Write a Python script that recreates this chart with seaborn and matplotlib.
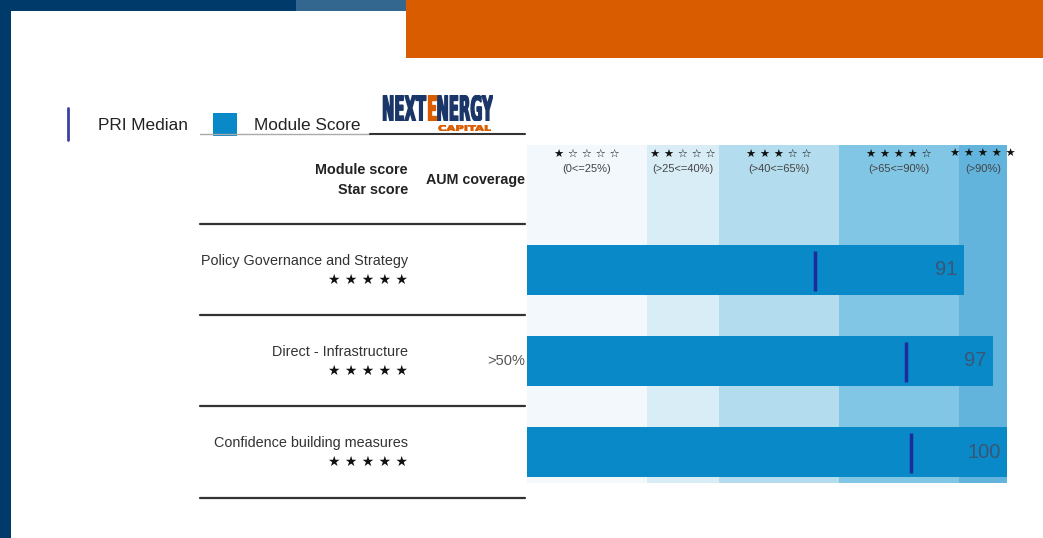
import numpy as np
import pandas as pd
import matplotlib
matplotlib.use("Agg")
import matplotlib.pyplot as plt
import matplotlib.transforms as mtransforms
import seaborn as sns
from matplotlib.patches import Rectangle, PathPatch
from matplotlib.lines import Line2D
from matplotlib.textpath import TextPath
from matplotlib.font_manager import FontProperties

# ---------------- data ----------------
modules = ["Policy Governance and Strategy", "Direct - Infrastructure", "Confidence building measures"]
module_scores = [91, 97, 100]
pri_medians = [60, 79, 80]
star_scores = [5, 5, 5]
aum_coverage = ["", ">50%", ""]
band_edges = [0, 25, 40, 65, 90, 100]
band_stars = [1, 2, 3, 4, 5]
band_labels = ["(0<=25%)", "(>25<=40%)", "(>40<=65%)", "(>65<=90%)", "(>90%)"]
band_colors = ["#f2f8fc", "#d9edf7", "#b3dcee", "#82c6e5", "#62b4dd"]
legend_labels = ["PRI Median", "Module Score"]

BAR_C = "#0a89c8"
MED_C = "#1c2c9c"
NAVY = "#003a6b"
ORANGE = "#d95c00"

W, H = 1043, 538
sns.set_theme(style="white")
plt.rcParams['font.family'] = ['Liberation Sans', 'DejaVu Sans']

fig = plt.figure(figsize=(W / 100, H / 100), dpi=100)
fig.patch.set_facecolor("white")


def fx(x):
    return x / W


def fy(y):
    return 1 - y / H


# ---------------- frame decoration ----------------
fig.add_artist(Rectangle((0, 0), fx(11), 1, transform=fig.transFigure, color=NAVY, lw=0))
fig.add_artist(Rectangle((0, fy(11)), fx(296), 11 / H, transform=fig.transFigure, color=NAVY, lw=0))
fig.add_artist(Rectangle((fx(296), fy(11)), fx(110), 11 / H, transform=fig.transFigure, color="#346790", lw=0))
fig.add_artist(Rectangle((fx(406), fy(58)), 1 - fx(406), 58 / H, transform=fig.transFigure, color=ORANGE, lw=0))

# ---------------- main axes ----------------
ax = fig.add_axes([fx(527), fy(483), fx(1007) - fx(527), (483 - 145) / H])
for lo, hi, c in zip(band_edges[:-1], band_edges[1:], band_colors):
    ax.axvspan(lo, hi, color=c, lw=0, zorder=0)

df = pd.DataFrame({"module": modules, "score": module_scores})
sns.barplot(data=df, x="score", y="module", orient="h", color=BAR_C, saturation=1,
            width=0.55, ax=ax, zorder=2, linewidth=0, edgecolor=BAR_C)
for p in ax.patches:
    p.set_clip_on(False)
ax.set_xlim(0, 100)
ax.set_ylim(2.34, -1.37)
ax.axis("off")

ypos = np.arange(len(modules))
ax.vlines(pri_medians, ypos - 0.21, ypos + 0.23, color=MED_C, lw=2.5, zorder=3)
for i, s in enumerate(module_scores):
    ax.text(s - 1.3, i, str(s), ha="right", va="center", color="#3a5674", fontsize=14.5, zorder=4)

# band headers
for lo, hi, n, lab in zip(band_edges[:-1], band_edges[1:], band_stars, band_labels):
    mid = (lo + hi) / 2
    stars = " ".join(["★"] * n + ["☆"] * (5 - n))
    ax.text(mid, -1.275, stars, ha="center", va="center", fontsize=8.2, color="#111",
            family=["DejaVu Sans"], clip_on=False)
    ax.text(mid, -1.11, lab, ha="center", va="center", fontsize=8, color="#444", clip_on=False)

# ---------------- left table ----------------
blend = mtransforms.blended_transform_factory(fig.transFigure, ax.transData)
for i, (name, ns, aum) in enumerate(zip(modules, star_scores, aum_coverage)):
    fig.text(fx(408), i - 0.1, name, transform=blend, ha="right", va="center",
             fontsize=10.4, color="#333")
    fig.text(fx(408), i + 0.11, " ".join(["★"] * ns), transform=blend, ha="right", va="center",
             fontsize=10, color="#111", family=["DejaVu Sans"])
    if aum:
        fig.text(fx(525), i, aum, transform=blend, ha="right", va="center", fontsize=10.5, color="#555")

fig.text(fx(408), -1.10, "Module score", transform=blend, ha="right", va="center",
         fontsize=10.4, fontweight="bold", color="#222")
fig.text(fx(408), -0.88, "Star score", transform=blend, ha="right", va="center",
         fontsize=10.4, fontweight="bold", color="#222")
fig.text(fx(525), -0.99, "AUM coverage", transform=blend, ha="right", va="center",
         fontsize=10.3, fontweight="bold", color="#222")

for yv in np.arange(len(modules) + 1) - 0.5:
    fig.add_artist(Line2D([fx(200), fx(525)], [yv, yv], transform=blend, color="#333", lw=1.6))

# ---------------- legend ----------------
fig.add_artist(Line2D([fx(68), fx(68)], [fy(108), fy(140)], transform=fig.transFigure, color="#3b3fa6", lw=2))
fig.text(fx(98), fy(126), legend_labels[0], ha="left", va="center", fontsize=12.4, color="#222")
fig.add_artist(Rectangle((fx(213), fy(136)), fx(24), 23 / H, transform=fig.transFigure, color=BAR_C, lw=0))
fig.text(fx(254), fy(126), legend_labels[1], ha="left", va="center", fontsize=12.4, color="#222")
fig.add_artist(Line2D([fx(200), fx(370)], [fy(134), fy(134)], transform=fig.transFigure, color="#aaa", lw=1))
fig.add_artist(Line2D([fx(370), fx(525)], [fy(134), fy(134)], transform=fig.transFigure, color="#333", lw=1.5))

# ---------------- logo ----------------
fp = FontProperties(family="DejaVu Sans", weight="bold")


def logo_axes(parts, box, lw):
    x0, y0, x1, y1 = box
    lax = fig.add_axes([fx(x0), fy(y1), fx(x1) - fx(x0), (y1 - y0) / H])
    lax.axis("off")
    x = 0
    top = 0
    for s, c in parts:
        tp = TextPath((x, 0), s, size=10, prop=fp)
        lax.add_patch(PathPatch(tp, facecolor=c, edgecolor=c, lw=lw))
        ext = tp.get_extents()
        x = ext.x1 + 0.5
        top = max(top, ext.y1)
    lax.set_xlim(0, x - 0.5)
    lax.set_ylim(0, top)
    return lax


logo_axes([("NEXT", "#1a3668"), ("E", ORANGE), ("NERGY", "#1a3668")], (382, 95, 493, 121), 1.0)
logo_axes([("CAPITAL", ORANGE)], (438, 125, 491, 131), 0.6)

fig.savefig("out.png", dpi=100)
